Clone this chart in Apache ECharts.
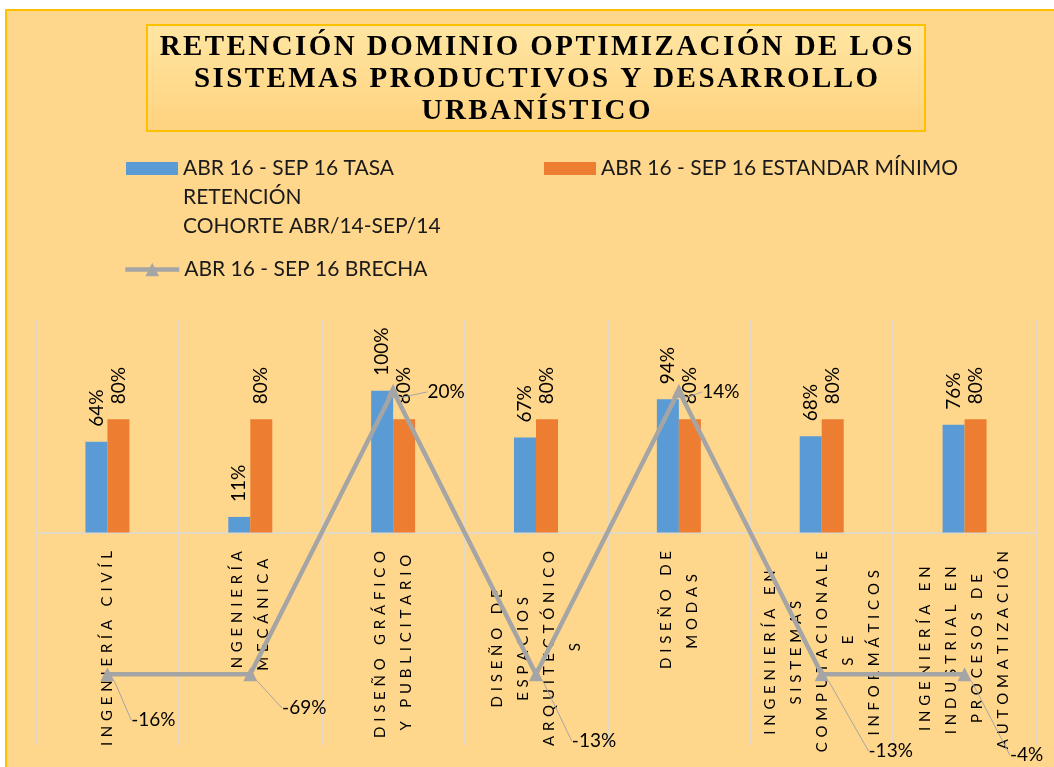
<!DOCTYPE html>
<html>
<head>
<meta charset="utf-8">
<title>Retención dominio optimización</title>
<script src="https://cdn.jsdelivr.net/npm/echarts@6/dist/echarts.min.js"></script>
<style>
  html, body { margin: 0; padding: 0; background: #fff; }
  #chart { width: 1054px; height: 767px; }
</style>
</head>
<body>
<div id="chart"></div>
<script>
// datos
const categorias = [
  'INGENIERÍA CIVÍL',
  'INGENIERÍA\nMECÁNICA',
  'DISEÑO GRÁFICO\nY PUBLICITARIO',
  'DISEÑO DE\nESPACIOS\nARQUITECTÓNICO\nS',
  'DISEÑO DE\nMODAS',
  'INGENIERÍA EN\nSISTEMAS\nCOMPUTACIONALE\nS E\nINFORMÁTICOS',
  'INGENIERÍA EN\nINDUSTRIAL EN\nPROCESOS DE\nAUTOMATIZACIÓN'
]
const tasaRetencion = [0.64, 0.11, 1.00, 0.67, 0.94, 0.68, 0.76]
const estandarMinimo = [0.80, 0.80, 0.80, 0.80, 0.80, 0.80, 0.80]
const brecha = [-0.16, -0.69, 0.20, -0.13, 0.14, -0.13, -0.04]
// altura a la que el original dibuja la brecha (queda recortada en ±100%)
const brechaNivel = [-1, -1, 1, -1, 1, -1, -1]

const nombreTasa = 'ABR 16 - SEP 16 TASA RETENCIÓN COHORTE ABR/14-SEP/14'
const nombreEstandar = 'ABR 16 - SEP 16 ESTANDAR MÍNIMO'
const nombreBrecha = 'ABR 16 - SEP 16 BRECHA'
const lineasLeyendaTasa = ['ABR 16 - SEP 16 TASA', 'RETENCIÓN', 'COHORTE ABR/14-SEP/14']
const lineasTitulo = [
  'RETENCIÓN DOMINIO OPTIMIZACIÓN DE LOS',
  'SISTEMAS PRODUCTIVOS Y DESARROLLO',
  'URBANÍSTICO'
]

// desplazamiento de las etiquetas de brecha respecto a su marcador (px)
const desplazamientos = [[46, 46], [54, 34], [53, 1], [58, 67], [42, 1], [69, 77], [62, 81]]

const FUENTE = 'Lato'
const TAM_CAT = 15
const SEP_CAT = ' \u200A'
const pct = v => Math.round(v * 100) + '%'
// separa las letras, el original usa espaciado expandido
const espaciado = (s, sep) => s.split('').join(sep)

// las líneas de cada categoría van centradas entre sí: se rellenan con espacios
const medidor = document.createElement('canvas').getContext('2d')
medidor.font = TAM_CAT + 'px ' + FUENTE
function etiquetaCategoria(v) {
  const lineas = v.split('\n').map(l => espaciado(l, SEP_CAT))
  const anchos = lineas.map(l => medidor.measureText(l).width)
  const max = Math.max(...anchos)
  const esp = medidor.measureText(' ').width
  return lineas.map((l, i) => l + ' '.repeat(Math.round((max - anchos[i]) / 2 / esp))).join('\n')
}

const chart = echarts.init(document.getElementById('chart'))

chart.setOption({
  animation: false,
  backgroundColor: '#ffffff',
  textStyle: { fontFamily: FUENTE },
  graphic: [
    {
      type: 'rect', z: -10, silent: true,
      shape: { x: 6, y: 10, width: 1060, height: 780 },
      style: { fill: '#FFD78C', stroke: '#FFC000', lineWidth: 2 }
    },
    {
      type: 'rect', z: 0, silent: true,
      shape: { x: 147, y: 25, width: 778, height: 106 },
      style: {
        fill: new echarts.graphic.LinearGradient(0, 0, 0, 1, [
          { offset: 0, color: '#FFE6A3' },
          { offset: 1, color: '#FFD27E' }
        ]),
        stroke: '#FFC000', lineWidth: 2
      }
    },
    {
      type: 'text', z: 1, silent: true,
      x: 536, y: 32,
      style: {
        text: lineasTitulo.map(l => espaciado(l, '\u200A')).join('\n'),
        align: 'center', verticalAlign: 'top',
        fontFamily: '"Liberation Serif"', fontWeight: 'bold', fontSize: 29,
        lineHeight: 32, fill: '#000000'
      }
    }
  ],
  legend: [
    {
      data: [nombreTasa], left: 126, top: 96, padding: 0,
      icon: 'rect', itemWidth: 52, itemHeight: 13,
      // dos líneas vacías arriba para que la primera quede a la altura del icono
      formatter: () => ['', ''].concat(lineasLeyendaTasa).join('\n'),
      textStyle: { fontFamily: FUENTE, fontSize: 21, color: '#1a1a1a', lineHeight: 29 }
    },
    {
      data: [nombreEstandar], left: 544, top: 154, padding: 0,
      icon: 'rect', itemWidth: 52, itemHeight: 13,
      textStyle: { fontFamily: FUENTE, fontSize: 21, color: '#1a1a1a', lineHeight: 29 }
    },
    {
      data: [nombreBrecha], left: 123, top: 255, padding: 0,
      itemWidth: 54, itemHeight: 17,
      lineStyle: { width: 4.5 },
      textStyle: { fontFamily: FUENTE, fontSize: 21, color: '#1a1a1a', lineHeight: 29 }
    }
  ],
  grid: { left: 36, right: 18, top: 320, bottom: 22, containLabel: false, outerBoundsMode: 'none' },
  xAxis: {
    type: 'category',
    data: categorias,
    axisLine: { onZero: true, lineStyle: { color: '#D9D9D9', width: 1.5 } },
    axisTick: { show: false },
    splitLine: { show: true, lineStyle: { color: '#D9D9D9', width: 1.5 } },
    axisLabel: {
      // las etiquetas se colocan desde el borde inferior del grid; se suben hasta el eje en cero
      interval: 0, rotate: 90, margin: -194,
      fontFamily: FUENTE, fontSize: TAM_CAT, lineHeight: 26, color: '#000',
      formatter: etiquetaCategoria
    }
  },
  yAxis: { type: 'value', min: -1.5, max: 1.5, show: false },
  series: [
    {
      name: nombreTasa, type: 'bar', data: tasaRetencion,
      barWidth: 22, barGap: '0%',
      itemStyle: { color: '#5B9BD5' },
      label: {
        show: true, position: 'top', distance: 15, rotate: 90,
        align: 'left', verticalAlign: 'middle',
        formatter: p => pct(p.value),
        fontFamily: FUENTE, fontSize: 19, color: '#000'
      }
    },
    {
      name: nombreEstandar, type: 'bar', data: estandarMinimo,
      barWidth: 22,
      itemStyle: { color: '#ED7D31' },
      label: {
        show: true, position: 'top', distance: 15, rotate: 90,
        align: 'left', verticalAlign: 'middle',
        formatter: p => pct(p.value),
        fontFamily: FUENTE, fontSize: 19, color: '#000'
      }
    },
    {
      name: nombreBrecha, type: 'line', data: brechaNivel, z: 5,
      symbol: 'triangle', symbolSize: 14,
      lineStyle: { color: '#A5A5A5', width: 4.5 },
      itemStyle: { color: '#A5A5A5' },
      label: {
        show: true, position: 'inside',
        formatter: p => pct(brecha[p.dataIndex]),
        fontFamily: FUENTE, fontSize: 19, color: '#000'
      },
      labelLine: { show: true, lineStyle: { color: '#A5A5A5', width: 1 } },
      labelLayout: p => ({ dx: desplazamientos[p.dataIndex][0], dy: desplazamientos[p.dataIndex][1] })
    }
  ]
})
</script>
</body>
</html>
